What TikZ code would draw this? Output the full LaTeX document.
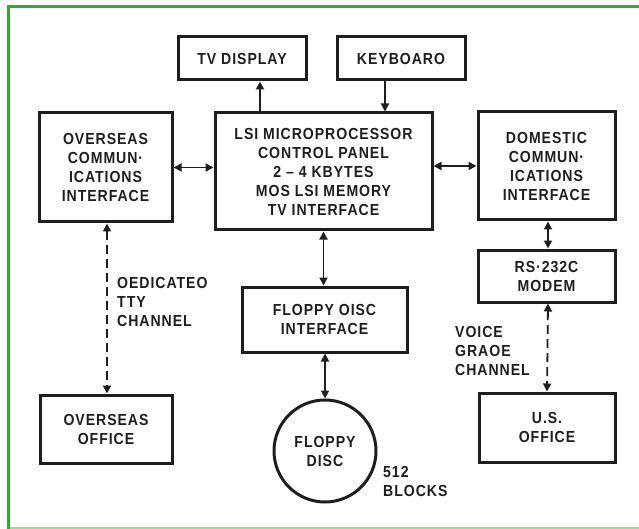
\documentclass[tikz,border=0pt]{standalone}
\usepackage{fontspec}
\setmainfont{Liberation Sans}[FakeStretch=0.88,LetterSpace=6]
\usetikzlibrary{arrows.meta,calc,positioning}
\definecolor{frame}{HTML}{2EAA2E}
\definecolor{framepale}{HTML}{9ADC9A}
\definecolor{ink}{HTML}{1E1E1E}
\tikzset{
  blk/.style={draw=ink,line width=3pt,rectangle,align=center,inner sep=2pt,
    font=\fontsize{16}{19}\selectfont\bfseries,text=ink},
  lbl/.style={align=left,inner sep=0pt,anchor=west,
    font=\fontsize{16}{19}\selectfont\bfseries,text=ink},
  link/.style={draw=ink,line width=1.8pt,{Triangle[length=8pt,width=8pt]}-{Triangle[length=8pt,width=8pt]}},
  feed/.style={draw=ink,line width=1.8pt,-{Triangle[length=8pt,width=8pt]}},
  chan/.style={link,dash pattern=on 9pt off 5pt}
}
\begin{document}
\begin{tikzpicture}[x=1pt,y=-1pt]
\useasboundingbox (0,0) rectangle (639,529);
% frame
\draw[framepale,line width=1.5pt] (9,528) -- (639,528);
\draw[frame,line width=3pt] (8.5,529) -- (8.5,6.5) -- (639,6.5);
% blocks
\node[blk,minimum width=128,minimum height=43] (tv) at (242,58.5) {TV DISPLAY};
\node[blk,minimum width=128,minimum height=43] (kbd) at (401,58.5) {KEYBOARO};
\node[blk,minimum width=133,minimum height=109] (osci) at (105.5,167.5) {OVERSEAS\\COMMUN·\\ICATIONS\\INTERFACE};
\node[blk,minimum width=217,minimum height=117] (lsi) at (323.5,171.5) {LSI MICROPROCESSOR\\CONTROL PANEL\\2 -- 4 KBYTES\\MOS LSI MEMORY\\TV INTERFACE};
\node[blk,minimum width=137,minimum height=108] (dci) at (546.5,166) {DOMESTIC\\COMMUN·\\ICATIONS\\INTERFACE};
\node[blk,minimum width=137,minimum height=52] (modem) at (546.5,276) {RS·232C\\MODEM};
\node[blk,minimum width=165,minimum height=65] (fdi) at (324.5,319.5) {FLOPPY OISC\\INTERFACE};
\node[blk,circle,minimum size=102] (disc) at (325,451) {FLOPPY\\DISC};
\node[blk,minimum width=132,minimum height=68] (oso) at (106,429) {OVERSEAS\\OFFICE};
\node[blk,minimum width=136,minimum height=69] (uso) at (547,427.5) {U.S.\\OFFICE};
% labels
\node[lbl] (tty) at (117,302) {OEDICATEO\\TTY\\CHANNEL};
\node[lbl] (voice) at (455,351) {VOICE\\GRAOE\\CHANNEL};
\node[lbl] (blocks) at (383,481.5) {512\\BLOCKS};
% connectors
\draw[feed] ([xshift=-63.5]lsi.north) -- ([xshift=18]tv.south);
\draw[feed] ([xshift=-16]kbd.south) -- ([xshift=61.5]lsi.north);
\draw[link] (osci.east) -- (osci.east -| lsi.west);
\draw[link] (lsi.east |- dci.west) -- (dci.west);
\draw[link] (lsi.south) -- (lsi.south |- fdi.north);
\draw[link] (fdi.south -| disc.north) -- (disc.north);
\draw[link] ([xshift=1.5]dci.south) -- ([xshift=1.5]modem.north);
\draw[chan] ([xshift=1.5]modem.south) -- (uso.north);
\draw[chan] ([xshift=1.5]osci.south) -- ([xshift=1]oso.north);
\end{tikzpicture}
\end{document}
